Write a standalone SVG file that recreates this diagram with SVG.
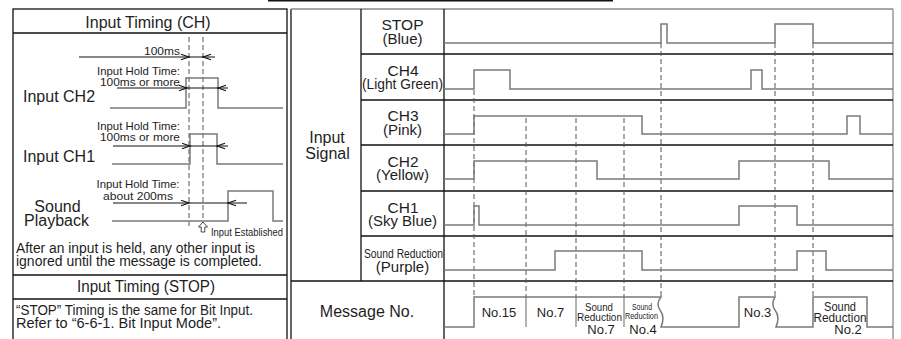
<svg xmlns="http://www.w3.org/2000/svg" width="901" height="339" viewBox="0 0 901 339">
<style>
text{font-family:"Liberation Sans",Arial,sans-serif;fill:#1e1e1e}
.frame{stroke:#111;stroke-width:1.3;fill:none}
.gframe{stroke:#888;stroke-width:1.3;fill:none}
.sig{stroke:#7a7a7a;stroke-width:1.5;fill:none}
.dash{stroke:#555;stroke-width:1;stroke-dasharray:5,3;fill:none}
.dim{stroke:#111;stroke-width:1.1;fill:none}
.t16{font-size:16px}
.t155{font-size:15px}
.t14{font-size:14px}
.t13{font-size:13px}
.t12{font-size:11.5px}
.mid{text-anchor:middle}
</style>
<defs>
<polyline id="ar" points="-8,-2.7 0,0 -8,2.7" class="dim"/>
<polyline id="al" points="8,-2.7 0,0 8,2.7" class="dim"/>
</defs>

<g id="heading-rule"><line x1="268" y1="0.7" x2="613" y2="0.7" stroke="#111" stroke-width="1.5"/></g>

<g id="left-panel">
<rect x="13" y="9" width="274" height="335" class="frame"/>
<line x1="13" y1="33" x2="287" y2="33" class="frame"/>
<line x1="13" y1="275" x2="287" y2="275" class="frame"/>
<line x1="13" y1="299" x2="287" y2="299" class="frame"/>
<text x="148" y="27.5" class="t16 mid">Input Timing (CH)</text>
<text x="146" y="292" class="t16 mid" textLength="138" lengthAdjust="spacingAndGlyphs">Input Timing (STOP)</text>
</g>

<g id="timing-ch">
<line x1="189" y1="37" x2="189" y2="229" class="dash"/>
<line x1="203" y1="37" x2="203" y2="220" class="dash"/>
<text x="180" y="55" class="t12" text-anchor="end" textLength="36" lengthAdjust="spacingAndGlyphs">100ms</text>
<path d="M79,57 H215" class="dim"/>
<use href="#ar" x="189" y="57"/><use href="#al" x="203" y="57"/>

<text x="138.5" y="75" class="t12 mid" textLength="83" lengthAdjust="spacingAndGlyphs">Input Hold Time:</text>
<text x="140" y="85.5" class="t12 mid" textLength="80" lengthAdjust="spacingAndGlyphs">100ms or more</text>
<text x="23" y="101.5" class="t16">Input CH2</text>
<path d="M110,108 H186 V78 H218 V108 H283" class="sig"/>
<path d="M117,88 H228" class="dim"/>
<use href="#ar" x="187" y="88"/><use href="#al" x="218" y="88"/>

<text x="138.5" y="130" class="t12 mid" textLength="83" lengthAdjust="spacingAndGlyphs">Input Hold Time:</text>
<text x="140" y="141" class="t12 mid" textLength="80" lengthAdjust="spacingAndGlyphs">100ms or more</text>
<text x="23" y="161.5" class="t16">Input CH1</text>
<path d="M112,164 H190 V134 H217 V164 H283" class="sig"/>
<path d="M113,146 H228" class="dim"/>
<use href="#ar" x="190" y="146"/><use href="#al" x="217" y="146"/>

<text x="138" y="188" class="t12 mid" textLength="83" lengthAdjust="spacingAndGlyphs">Input Hold Time:</text>
<text x="138" y="199.5" class="t12 mid" textLength="70" lengthAdjust="spacingAndGlyphs">about 200ms</text>
<text x="57.5" y="211.5" class="t16 mid">Sound</text>
<text x="56.5" y="225.5" class="t16 mid">Playback</text>
<path d="M112,221 H228 V191 H273 V221 H283" class="sig"/>
<path d="M113,203 H247" class="dim"/>
<use href="#ar" x="189" y="203"/><use href="#al" x="228" y="203"/>

<polygon points="203,222 198.5,227 201.2,227 201.2,232 204.8,232 204.8,227 207.5,227" fill="none" stroke="#333" stroke-width="0.9"/>
<text x="211" y="235.5" font-size="11.5" textLength="72" lengthAdjust="spacingAndGlyphs">Input Established</text>

<text x="16" y="252.5" class="t14" textLength="239" lengthAdjust="spacingAndGlyphs">After an input is held, any other input is</text>
<text x="16" y="265.5" class="t14" textLength="246" lengthAdjust="spacingAndGlyphs">ignored until the message is completed.</text>
</g>

<g id="timing-stop">
<text x="16" y="315" class="t14" textLength="237" lengthAdjust="spacingAndGlyphs">“STOP” Timing is the same for Bit Input.</text>
<text x="16" y="328" class="t14" textLength="205" lengthAdjust="spacingAndGlyphs">Refer to “6-6-1. Bit Input Mode”.</text>
</g>

<g id="table-frame">
<line x1="291" y1="9" x2="291" y2="344" class="frame"/>
<line x1="291" y1="9" x2="893" y2="9" class="gframe"/>
<line x1="893" y1="9" x2="893" y2="344" class="gframe"/>
<line x1="361" y1="9" x2="361" y2="281" class="frame"/>
<line x1="444" y1="9" x2="444" y2="344" class="frame"/>
<line x1="361" y1="54" x2="893" y2="54" class="frame"/>
<line x1="361" y1="100" x2="893" y2="100" class="frame"/>
<line x1="361" y1="145" x2="893" y2="145" class="frame"/>
<line x1="361" y1="191" x2="893" y2="191" class="frame"/>
<line x1="361" y1="236" x2="893" y2="236" class="frame"/>
<line x1="291" y1="281" x2="893" y2="281" class="frame"/>
</g>

<g id="labels">
<text x="327" y="143" class="t16 mid">Input</text>
<text x="327.5" y="159" class="t16 mid">Signal</text>
<text x="402.5" y="30" class="t155 mid" textLength="42" lengthAdjust="spacingAndGlyphs">STOP</text>
<text x="402.5" y="43.5" class="t155 mid">(Blue)</text>
<text x="403" y="76" class="t155 mid" textLength="31" lengthAdjust="spacingAndGlyphs">CH4</text>
<text x="402.5" y="89" class="t155 mid" textLength="81" lengthAdjust="spacingAndGlyphs">(Light Green)</text>
<text x="403" y="121" class="t155 mid" textLength="31" lengthAdjust="spacingAndGlyphs">CH3</text>
<text x="402.5" y="134.5" class="t155 mid">(Pink)</text>
<text x="403" y="167" class="t155 mid" textLength="31" lengthAdjust="spacingAndGlyphs">CH2</text>
<text x="402.5" y="180" class="t155 mid">(Yellow)</text>
<text x="403" y="213" class="t155 mid" textLength="31" lengthAdjust="spacingAndGlyphs">CH1</text>
<text x="402.5" y="226" class="t155 mid">(Sky Blue)</text>
<text x="403.5" y="257.5" class="t13 mid" textLength="79" lengthAdjust="spacingAndGlyphs">Sound Reduction</text>
<text x="402.5" y="271.5" class="t155 mid">(Purple)</text>
<text x="367" y="317" class="t16 mid">Message No.</text>
</g>

<g id="connectors">
<line x1="474" y1="90" x2="474" y2="297" class="dash"/>
<line x1="526" y1="118" x2="526" y2="297" class="dash"/>
<line x1="576" y1="118" x2="576" y2="297" class="dash"/>
<line x1="624" y1="118" x2="624" y2="297" class="dash"/>
<line x1="661" y1="43" x2="661" y2="297" class="dash"/>
<line x1="775" y1="43" x2="775" y2="297" class="dash"/>
<line x1="813" y1="43" x2="813" y2="297" class="dash"/>
</g>

<g id="signals">
<path d="M444,43 H661 V24 H667 V43 H775 V24 H813 V43 H893" class="sig"/>
<path d="M444,89 H474 V70 H510 V89 H751 V70 H762 V89 H893" class="sig"/>
<path d="M444,134 H474 V116 H642 V134 H847 V116 H860 V134 H893" class="sig"/>
<path d="M444,179 H474 V161 H597 V179 H739 V161 H829 V179 H893" class="sig"/>
<path d="M444,225 H474 V206 H479 V225 H739 V206 H797 V225 H893" class="sig"/>
<path d="M444,270 H555 V251 H642 V270 H797 V251 H826 V270 H893" class="sig"/>
<path d="M444,327 H474 V297 H661 C657,302 657,306 660,310 C664,315 664,320 661,327 H739 V297 H775 C772,302 772,306 775,310 C779,315 779,320 776,327 H813 V297 H867 V327 H893" class="sig"/>
<path d="M526,297 V327 M576,297 V327 M624,297 V327" stroke="#666" stroke-width="1" fill="none"/>
</g>

<g id="messages">
<text x="499" y="317" class="t13 mid">No.15</text>
<text x="550.5" y="317" class="t13 mid">No.7</text>
<text x="599" y="311" font-size="11" class="mid" textLength="28" lengthAdjust="spacingAndGlyphs">Sound</text>
<text x="599.5" y="321" font-size="11" class="mid" textLength="45" lengthAdjust="spacingAndGlyphs">Reduction</text>
<text x="601" y="334" class="t13 mid">No.7</text>
<text x="642" y="310" font-size="9" class="mid" textLength="20" lengthAdjust="spacingAndGlyphs">Sound</text>
<text x="641.5" y="319" font-size="9" class="mid" textLength="33" lengthAdjust="spacingAndGlyphs">Reduction</text>
<text x="643" y="334" class="t13 mid">No.4</text>
<text x="757.5" y="317" class="t13 mid">No.3</text>
<text x="840" y="311" font-size="12" class="mid" textLength="32" lengthAdjust="spacingAndGlyphs">Sound</text>
<text x="840" y="322" font-size="12" class="mid" textLength="53" lengthAdjust="spacingAndGlyphs">Reduction</text>
<text x="848" y="334" class="t13 mid">No.2</text>
</g>
</svg>
